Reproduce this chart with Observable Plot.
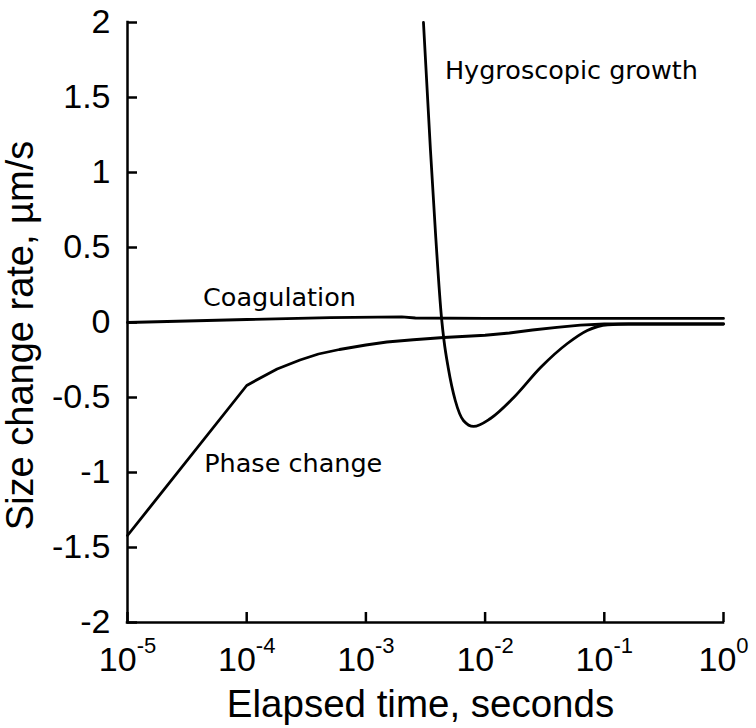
<!DOCTYPE html>
<html>
<head>
<meta charset="utf-8">
<script src="https://cdn.jsdelivr.net/npm/d3@7"></script>
<script src="https://cdn.jsdelivr.net/npm/@observablehq/plot@0.6"></script>
<style>
  html, body { margin: 0; padding: 0; background: #fff; }
</style>
</head>
<body>
<div id="chart"></div>
<script>
// ---- data ----
const xTicks = [1e-5, 1e-4, 1e-3, 1e-2, 1e-1, 1];
const yTicks = [-2, -1.5, -1, -0.5, 0, 0.5, 1, 1.5, 2];

const coagT = [1e-5, 1e-4, 5e-4, 2e-3, 2.6e-3, 1e-2, 1e-1, 1];
const coagV = [0.0, 0.02, 0.033, 0.038, 0.03, 0.028, 0.027, 0.027];

const phaseT = [1e-5, 1e-4, 1.3e-4, 1.8e-4, 2.8e-4, 4e-4, 6e-4, 1e-3, 1.5e-3, 2.5e-3, 4.5e-3, 1e-2, 1.6e-2, 2.5e-2, 4e-2, 6.3e-2, 1e-1, 1];
const phaseV = [-1.42, -0.42, -0.37, -0.31, -0.25, -0.21, -0.18, -0.15, -0.13, -0.115, -0.1, -0.085, -0.07, -0.05, -0.032, -0.018, -0.01, -0.01];

const hygroT = [3.04e-3, 3.48e-3, 3.84e-3, 4.31e-3, 4.52e-3, 4.9e-3, 5.62e-3, 6.6e-3, 8.0e-3, 1.11e-2, 1.74e-2, 2.92e-2, 4.9e-2, 7.2e-2, 0.107, 0.16, 1];
const hygroV = [2.0, 1.15, 0.59, 0.03, -0.12, -0.3, -0.52, -0.655, -0.693, -0.64, -0.5, -0.3, -0.14, -0.053, -0.015, -0.01, -0.01];

const annLabels = ["Hygroscopic growth", "Coagulation", "Phase change"];
const annT = [4.6e-3, 4.3e-5, 4.4e-5];
const annV = [1.68, 0.167, -0.94];

const xLabel = "Elapsed time, seconds";
const yLabel = "Size change rate, \u00b5m/s";

// ---- tables built from the arrays ----
const toRows = (ts, vs) => ts.map((t, i) => ({t, v: vs[i]}));
const coag = toRows(coagT, coagV);
const phase = toRows(phaseT, phaseV);
const hygro = toRows(hygroT, hygroV);
const ann = annLabels.map((s, i) => ({s, t: annT[i], v: annV[i]}));

const axisFont = "'Liberation Sans', Arial, Helvetica, sans-serif";
const annFont = "'DejaVu Sans', Verdana, sans-serif";
const lw = 2.8;

const plot = Plot.plot({
  width: 756,
  height: 728,
  marginLeft: 127,
  marginRight: 33,
  marginTop: 22,
  marginBottom: 106,
  style: {background: "#fff", color: "#000", fontFamily: axisFont, overflow: "visible"},
  x: {type: "log", domain: [1e-5, 1]},
  y: {domain: [-2, 2]},
  marks: [
    Plot.axisY({
      ticks: yTicks, tickSize: -10, tickPadding: 27, strokeWidth: 2.5,
      fontSize: 34, tickFormat: d => String(d), label: null
    }),
    Plot.axisX({
      ticks: xTicks, tickSize: -10, tickPadding: 34, strokeWidth: 2.5,
      fontSize: 34, tickFormat: d => "10^" + Math.round(Math.log10(d)), label: null
    }),
    Plot.ruleX([xTicks[0]], {x: d => d, y1: yTicks[0], y2: yTicks[yTicks.length - 1], strokeWidth: 2.5, strokeLinecap: "square"}),
    Plot.ruleY([yTicks[0]], {y: d => d, x1: xTicks[0], x2: xTicks[xTicks.length - 1], strokeWidth: 2.5, strokeLinecap: "square"}),
    Plot.line(coag, {x: "t", y: "v", stroke: "#000", strokeWidth: lw, curve: "linear"}),
    Plot.line(phase, {x: "t", y: "v", stroke: "#000", strokeWidth: lw, curve: "linear"}),
    Plot.line(hygro, {x: "t", y: "v", stroke: "#000", strokeWidth: lw, curve: "monotone-x"}),
    Plot.text(ann, {x: "t", y: "v", text: "s", textAnchor: "start", lineAnchor: "middle", fontSize: 25.5, fontFamily: annFont, fill: "#000"}),
    Plot.text([xLabel], {text: d => d, frameAnchor: "bottom", dx: -5, dy: 82, lineAnchor: "middle", fontSize: 38.5, fill: "#000"}),
    Plot.text([yLabel], {text: d => d, frameAnchor: "left", textAnchor: "middle", dx: -107, dy: 13, rotate: -90, lineAnchor: "middle", fontSize: 38, fill: "#000"})
  ]
});

// superscript exponents on the x tick labels
d3.select(plot).selectAll('g[aria-label="x-axis tick label"] text').each(function() {
  const s = this.textContent;
  const m = s.match(/^10\^(-?\d+)$/);
  if (!m) return;
  const el = d3.select(this);
  el.text(null);
  el.append("tspan").text("10");
  el.append("tspan").attr("dy", "-18px").attr("font-size", "22px").text(m[1]);
});

document.getElementById("chart").appendChild(plot);
</script>
</body>
</html>
